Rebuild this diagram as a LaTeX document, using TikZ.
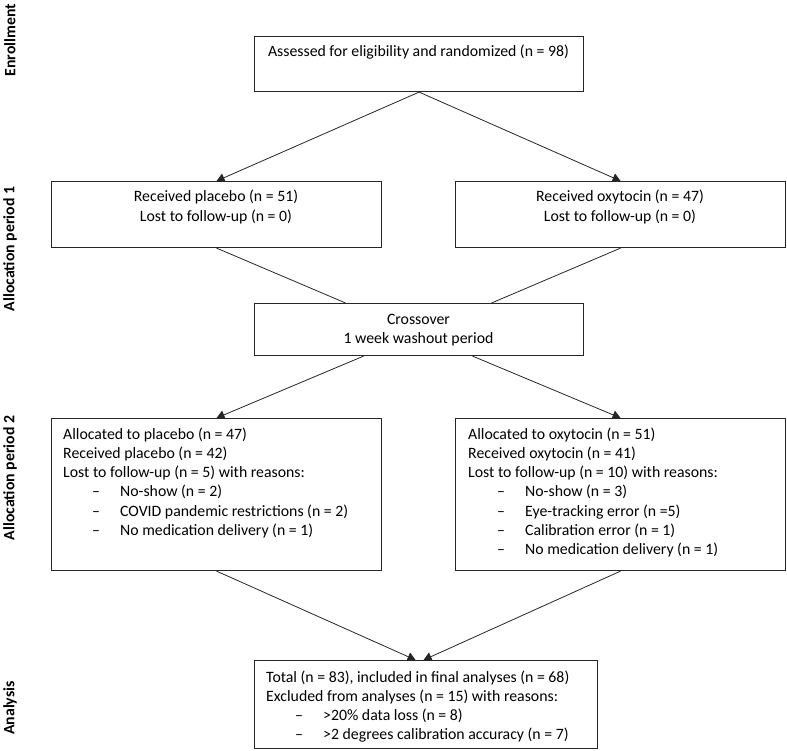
\documentclass[tikz,border=0pt]{standalone}
\usepackage{fontspec}
\setmainfont{Carlito}
\usetikzlibrary{arrows.meta}
\newcommand{\itm}[1]{\makebox[57pt][l]{\hspace*{29pt}–}#1}
\begin{document}
\begin{tikzpicture}[x=1pt,y=-1pt,
  box/.style={draw=black!85, line width=1.1pt, rectangle, inner sep=0pt, anchor=north west},
  txt/.style={inner sep=0pt, font=\fontsize{15.8}{19.3}\selectfont},
  side/.style={inner sep=0pt, rotate=90, font=\fontsize{15.8}{19.3}\selectfont\bfseries},
  conn/.style={draw=black!85, line width=0.8pt},
  arr/.style={conn, -{Triangle[length=8pt,width=9pt]}}]
\useasboundingbox (0,0) rectangle (787,751);

% side labels
\node[side] (lEnr) at (10,40) {Enrollment};
\node[side] (lP1) at (10,249) {Allocation period 1};
\node[side] (lP2) at (10,478) {Allocation period 2};
\node[side] (lAna) at (10,708) {Analysis};

% boxes
\node[box, minimum width=329pt, minimum height=55pt] (enr) at (254,36) {};
\node[box, minimum width=330pt, minimum height=66pt] (p1L) at (51,181) {};
\node[box, minimum width=330pt, minimum height=66pt] (p1R) at (455,181) {};
\node[box, minimum width=329pt, minimum height=52pt] (cross) at (254,303) {};
\node[box, minimum width=330pt, minimum height=152pt] (p2L) at (51,418) {};
\node[box, minimum width=330pt, minimum height=152pt] (p2R) at (455,418) {};
\node[box, minimum width=343pt, minimum height=88pt] (ana) at (254,660) {};

% texts
\node[txt, anchor=base] (enrT) at (418.5,57) {Assessed for eligibility and randomized (n = 98)};
\node[txt, anchor=base] (p1LT) at (216,202) {\parbox[t]{320pt}{\centering Received placebo (n = 51)\\Lost to follow-up (n = 0)}};
\node[txt, anchor=base] (p1RT) at (620,202) {\parbox[t]{320pt}{\centering Received oxytocin (n = 47)\\Lost to follow-up (n = 0)}};
\node[txt, anchor=base] (crossT) at (418.5,324) {\parbox[t]{320pt}{\centering Crossover\\1 week washout period}};
\node[txt, anchor=base west] (p2LT) at (63,439) {\parbox[t]{315pt}{Allocated to placebo (n = 47)\\Received placebo (n = 42)\\Lost to follow-up (n = 5) with reasons:\\\itm{No-show (n = 2)}\\\itm{COVID pandemic restrictions (n = 2)}\\\itm{No medication delivery (n = 1)}}};
\node[txt, anchor=base west] (p2RT) at (468,439) {\parbox[t]{315pt}{Allocated to oxytocin (n = 51)\\Received oxytocin (n = 41)\\Lost to follow-up (n = 10) with reasons:\\\itm{No-show (n = 3)}\\\itm{Eye-tracking error (n =5)}\\\itm{Calibration error (n = 1)}\\\itm{No medication delivery (n = 1)}}};
\node[txt, anchor=base west] (anaT) at (266,682) {\parbox[t]{330pt}{Total (n = 83), included in final analyses (n = 68)\\Excluded from analyses (n = 15) with reasons:\\\itm{>20\% data loss (n = 8)}\\\itm{>2 degrees calibration accuracy (n = 7)}}};

% connectors
\draw[arr] (enr.south) -- (p1L.north);
\draw[arr] (enr.south) -- (p1R.north);
\draw[conn] (p1L.south) -- ([xshift=-73.5pt]cross.north);
\draw[conn] (p1R.south) -- ([xshift=72.5pt]cross.north);
\draw[arr] ([xshift=-55.5pt]cross.south) -- (p2L.north);
\draw[arr] ([xshift=53.5pt]cross.south) -- (p2R.north);
\draw[arr] (p2L.south) -- ([xshift=-10.5pt]ana.north);
\draw[arr] (p2R.south) -- ([xshift=-2.5pt]ana.north);
\end{tikzpicture}
\end{document}
